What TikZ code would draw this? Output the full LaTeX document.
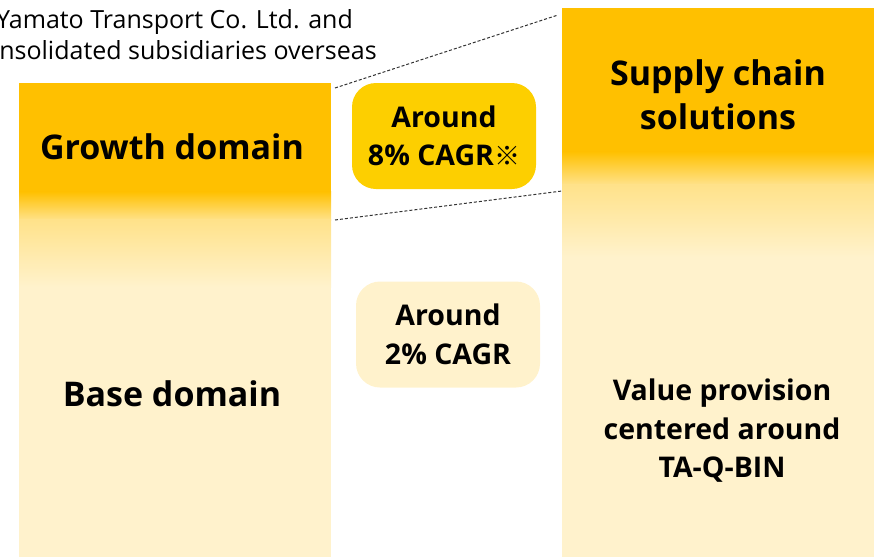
\documentclass[tikz,border=0pt]{standalone}
\usepackage{fontspec}
\usepackage{tikz}
\setmainfont{Open Sans}
\newfontfamily\cjk{Noto Sans CJK JP}

\definecolor{ymgold}{HTML}{FFC000}
\definecolor{ymmid}{HTML}{FFE28A}
\definecolor{ymlight}{HTML}{FFF2CC}
\definecolor{ymbubble}{HTML}{FDCF00}
\definecolor{ymline}{HTML}{333333}

\tikzset{
  bigtext/.style={font=\bfseries\fontsize{34}{44}\selectfont, align=center},
  midtext/.style={font=\bfseries\fontsize{28.5}{38.5}\selectfont, align=center},
  bubble/.style={rounded corners=24pt, minimum width=184pt, minimum height=106pt, inner sep=0pt},
  dashline/.style={ymline, line width=1pt, dash pattern=on 3pt off 2pt}
}

\begin{document}
\begin{tikzpicture}[x=1pt,y=-1pt]
	\useasboundingbox (0,0) rectangle (874,557);
	\clip (0,0) rectangle (874,557);
	
	% left column
	\fill[ymgold] (19,83) rectangle (331,192);
	\shade[top color=ymgold, bottom color=ymmid] (19,191.5) rectangle (331,220);
	\shade[top color=ymmid, bottom color=ymlight] (19,219.5) rectangle (331,287);
	\fill[ymlight] (19,286.5) rectangle (331,557);
	
	% right column
	\fill[ymgold] (562,8) rectangle (874,152);
	\shade[top color=ymgold, bottom color=ymmid] (562,151.5) rectangle (874,185);
	\shade[top color=ymmid, bottom color=ymlight] (562,184.5) rectangle (874,257);
	\fill[ymlight] (562,256.5) rectangle (874,557);
	
	\coordinate (growth top)  at (335,88);
	\coordinate (growth foot) at (335,220);
	\coordinate (scs top)     at (558,15);
	\coordinate (scs foot)    at (562,191);
	
	\draw[dashline] (growth top) -- (scs top);
	\draw[dashline] (growth foot) -- (scs foot);
	
	\node[font=\fontsize{25}{31}\selectfont, align=center] (scope) at (174.5,35)
		{Yamato Transport Co. Ltd. and\\consolidated subsidiaries overseas};
	
	\node[bigtext] (growth) at (172,147) {Growth domain};
	\node[bigtext] (base)   at (172,394) {Base domain};
	\node[bigtext] (scs)    at (718,95)  {Supply chain\\solutions};
	\node[midtext] (value)  at (722,431) {Value provision\\centered around\\TA-Q-BIN};
	
	\node[bubble, fill=ymbubble] (high) at (444,136) {};
	\node[midtext] (high text) at (high.center) {Around\\8\% CAGR{\cjk\mdseries\fontsize{26}{26}\selectfont ※}};
	\node[bubble, fill=ymlight] (low) at (448,334.5) {};
	\node[midtext] (low text) at (low.center) {Around\\2\% CAGR};
	
\end{tikzpicture}
\end{document}
